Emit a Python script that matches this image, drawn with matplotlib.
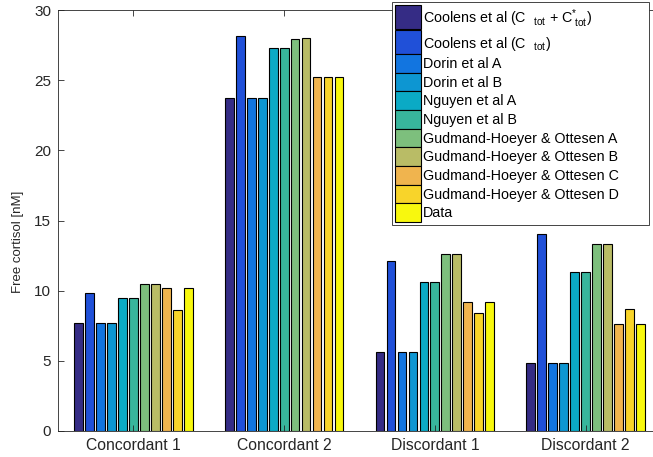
import numpy as np
import matplotlib
matplotlib.use("Agg")
import matplotlib.pyplot as plt

plt.rcParams['font.family'] = ['Liberation Sans', 'DejaVu Sans']
plt.rcParams['mathtext.fontset'] = 'custom'
plt.rcParams['mathtext.rm'] = 'Liberation Sans'
plt.rcParams['mathtext.it'] = 'Liberation Sans'

# groups on the x axis
groups = ['Concordant 1', 'Concordant 2', 'Discordant 1', 'Discordant 2']

# free cortisol per model / data set [nM]
coolens_both = [7.72, 23.71, 5.61, 4.82]
coolens_tot = [9.81, 28.15, 12.09, 14.02]
dorin_a = [7.72, 23.71, 5.61, 4.82]
dorin_b = [7.72, 23.71, 5.61, 4.82]
nguyen_a = [9.46, 27.28, 10.60, 11.36]
nguyen_b = [9.46, 27.28, 10.60, 11.36]
gh_a = [10.45, 27.96, 12.59, 13.33]
gh_b = [10.45, 28.01, 12.59, 13.33]
gh_c = [10.17, 25.21, 9.22, 7.60]
gh_d = [8.65, 25.21, 8.39, 8.70]
data = [10.17, 25.21, 9.22, 7.60]

labels = [r'Coolens et al (C$\mathregular{_{\quad tot}}$ + C$\mathregular{^{*}_{\ tot}}$)',
          r'Coolens et al (C$\mathregular{_{\quad tot}}$)',
          'Dorin et al A', 'Dorin et al B',
          'Nguyen et al A', 'Nguyen et al B',
          'Gudmand-Hoeyer & Ottesen A', 'Gudmand-Hoeyer & Ottesen B',
          'Gudmand-Hoeyer & Ottesen C', 'Gudmand-Hoeyer & Ottesen D',
          'Data']
series = [coolens_both, coolens_tot, dorin_a, dorin_b, nguyen_a, nguyen_b,
          gh_a, gh_b, gh_c, gh_d, data]

# parula-like colours
colors = ['#352c85', '#2050d8', '#1275e0', '#0d96d2', '#0baac5', '#38b59c',
          '#7dbf7d', '#b9bc66', '#f0b44e', '#f8d42a', '#f8f80e']

fig = plt.figure(figsize=(6.53, 4.57), dpi=100)
ax = fig.add_axes([58 / 653, 1 - 431 / 457, 603 / 653, 421 / 457])

x = np.arange(1, len(groups) + 1)
n = len(series)
step = 0.8 / n
for i, vals in enumerate(series):
    off = (i - (n - 1) / 2) * step
    ax.bar(x + off, vals, width=step * 0.8, color=colors[i], edgecolor='black',
           linewidth=0.8, label=labels[i])

ax.set_xlim(0.5, 4.5)
ax.set_ylim(0, 30)
ax.set_xticks(x)
ax.set_xticklabels(groups)
ax.set_yticks(np.arange(0, 31, 5))
ax.tick_params(direction='in', length=4, width=0.6, colors='#262626',
               labelsize=11, top=True, right=True, pad=5)
ax.tick_params(axis='x', labelsize=11.3)
for s in ax.spines.values():
    s.set_color('#262626')
    s.set_linewidth(0.6)
ax.set_ylabel('Free cortisol [nM]', fontsize=9.5, color='#262626')
ax.yaxis.set_label_coords(-0.056, 0.45)

# legend box: x 392..649, y 2..223 px
leg = ax.legend(loc='upper left',
                bbox_to_anchor=(392 / 653, 1 - 223 / 457, 257 / 653, 221 / 457),
                bbox_transform=fig.transFigure, mode='expand', borderaxespad=0,
                fontsize=10.3, frameon=True, fancybox=False, framealpha=1,
                handlelength=1.82, handleheight=1.63, labelspacing=0,
                handletextpad=0.14, borderpad=0.2)
leg.get_frame().set_edgecolor('#262626')
leg.get_frame().set_linewidth(0.6)

# the two subscripted entries are taller rows in the original
rows = leg._legend_handle_box.get_children()[0].get_children()
for row in rows[:2]:
    da = row.get_children()[0]
    patch = da.get_children()[0]
    da.height = 17.3
    da.ydescent = 4.3
    patch.set_y(-4.3)
    patch.set_height(17.3)

fig.savefig('out.png', dpi=100)
